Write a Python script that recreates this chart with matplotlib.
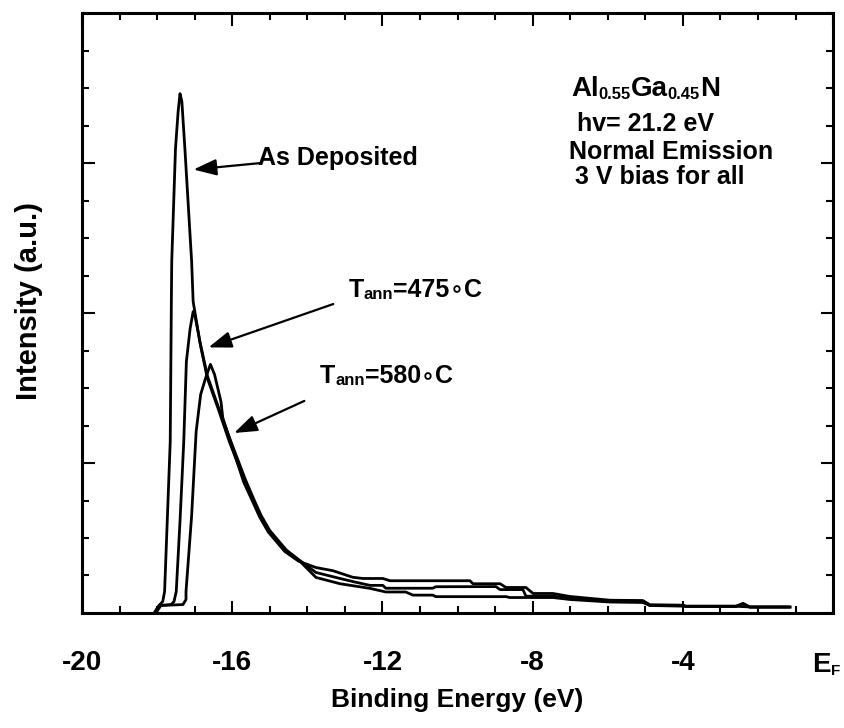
import numpy as np
import matplotlib
matplotlib.use("Agg")
import matplotlib.pyplot as plt
import matplotlib.transforms as mtransforms
from matplotlib.ticker import MultipleLocator

plt.rcParams['font.family'] = ['Liberation Sans', 'DejaVu Sans']
plt.rcParams['font.weight'] = 'bold'

# binding energy (eV) / intensity (a.u.)
as_dep_x = [-18.08, -17.95, -17.85, -17.80, -17.73, -17.65, -17.62, -17.61, -17.51, -17.44,
            -17.39, -17.34, -17.26, -17.08, -17.04, -16.85, -16.66, -16.35, -16.08, -15.67,
            -15.43, -15.25, -15.02, -14.58, -14.21, -13.77, -13.13, -12.33, -11.91, -11.38,
            -11.19, -10.66, -10.58, -8.71, -8.61, -7.46, -7.01, -5.94, -5.07, -4.88,
            -4.0, -3.92, -2.59, -2.40, -2.22, -1.15]
as_dep_y = [0.0, 0.05, 0.076, 0.143, 0.61, 1.143, 2.077, 2.343, 3.097, 3.343,
            3.463, 3.41, 3.097, 2.343, 2.077, 1.79, 1.564, 1.345, 1.145, 0.879,
            0.745, 0.645, 0.547, 0.414, 0.348, 0.237, 0.195, 0.164, 0.14, 0.14,
            0.119, 0.119, 0.109, 0.109, 0.103, 0.103, 0.09, 0.073, 0.07, 0.05,
            0.05, 0.043, 0.043, 0.064, 0.039, 0.039]

t475_x = [-18.06, -17.93, -17.63, -17.55, -17.49, -17.39, -17.29, -17.22, -17.12, -17.04,
          -16.99, -16.86, -16.66, -16.35, -16.06, -15.65, -15.41, -15.23, -15.0, -14.56,
          -14.2, -13.77, -13.13, -12.71, -12.33, -11.99, -11.91, -10.66, -10.58, -8.98,
          -8.87, -8.26, -8.18, -7.46, -7.0, -5.94, -5.07, -4.88, -3.9, -2.6,
          -2.2, -1.2]
t475_y = [0.0, 0.05, 0.056, 0.076, 0.143, 0.61, 1.143, 1.677, 1.897, 2.01,
          1.98, 1.81, 1.58, 1.36, 1.16, 0.89, 0.75, 0.65, 0.55, 0.42,
          0.35, 0.27, 0.23, 0.205, 0.184, 0.184, 0.165, 0.165, 0.175, 0.176,
          0.156, 0.156, 0.112, 0.112, 0.10, 0.08, 0.078, 0.05, 0.045, 0.045,
          0.04, 0.04]

t580_x = [-18.03, -17.90, -17.31, -17.23, -17.23, -17.08, -16.96, -16.84, -16.71, -16.58,
          -16.47, -16.30, -16.25, -16.05, -15.69, -15.45, -15.27, -15.04, -14.6, -14.23,
          -13.77, -13.32, -12.79, -12.52, -11.99, -11.80, -9.67, -9.59, -8.87, -8.71,
          -8.18, -7.99, -7.46, -7.01, -5.94, -5.07, -4.88, -4.0, -3.92, -2.59,
          -2.40, -2.22, -1.15]
t580_y = [0.0, 0.05, 0.056, 0.09, 0.143, 0.65, 1.21, 1.457, 1.565, 1.658,
          1.59, 1.41, 1.30, 1.146, 0.87, 0.74, 0.64, 0.54, 0.41, 0.345,
          0.303, 0.282, 0.238, 0.23, 0.23, 0.215, 0.215, 0.195, 0.195, 0.17,
          0.17, 0.13, 0.13, 0.11, 0.085, 0.083, 0.055, 0.052, 0.045, 0.045,
          0.062, 0.04, 0.04]

xticks = [-20, -16, -12, -8, -4, 0]
xticklabels = ['-20', '-16', '-12', '-8', '-4', '']


def chain(ax, x, y, pieces, transform=None, ha='left'):
    # pieces: list of (string, size); pieces placed one after another on one baseline
    if transform is None:
        transform = ax.transData
    prev = ax.text(x, y, pieces[0][0], fontsize=pieces[0][1], fontweight='bold',
                   transform=transform, ha=ha, va='baseline')
    for s, fs in pieces[1:]:
        prev = ax.annotate(s, xy=(1, 0), xycoords=prev, fontsize=fs, fontweight='bold',
                           ha='left', va='bottom')
    return prev


fig = plt.figure(figsize=(8.45, 7.28), dpi=100)
ax = fig.add_axes([0.097, 0.158, 0.889, 0.824])

for xs, ys in [(as_dep_x, as_dep_y), (t475_x, t475_y), (t580_x, t580_y)]:
    ax.plot(xs, ys, color='black', lw=2.0, solid_joinstyle='round')

ax.set_xlim(-20, 0)
ax.set_ylim(0, 4)
ax.set_xticks(xticks)
ax.set_xticklabels(xticklabels)
ax.xaxis.set_minor_locator(MultipleLocator(1))
ax.set_yticks([1, 2, 3])
ax.set_yticklabels([])
ax.yaxis.set_minor_locator(MultipleLocator(0.25))
ax.tick_params(which='both', direction='in', top=True, right=True, width=1.5)
ax.tick_params(which='major', length=9)
ax.tick_params(which='minor', length=5)
ax.tick_params(axis='x', labelsize=20, pad=27)
for sp in ax.spines.values():
    sp.set_linewidth(2.2)

ax.set_xlabel('Binding Energy (eV)', fontsize=19, fontweight='bold', labelpad=8)
ax.set_ylabel('Intensity (a.u.)', fontsize=21, fontweight='bold')
ax.yaxis.set_label_coords(-0.052, 0.52)

# E_F label at x = 0
blend = mtransforms.blended_transform_factory(ax.transData, ax.transAxes)
chain(ax, -0.56, -0.098, [('E', 20), ('F', 11)], transform=blend)

arrow = dict(arrowstyle='-|>,head_length=0.7,head_width=0.25', color='black',
             lw=1.6, shrinkA=0, shrinkB=0, mutation_scale=20)
ax.annotate('', xy=(-17.03, 2.957), xytext=(-15.25, 3.0), arrowprops=arrow)
ax.annotate('', xy=(-16.63, 1.771), xytext=(-13.31, 2.06), arrowprops=arrow)
ax.annotate('', xy=(-15.95, 1.20), xytext=(-14.08, 1.414), arrowprops=arrow)

ax.text(-15.3, 2.99, 'As Deposited', fontsize=18, fontweight='bold', va='baseline')
chain(ax, -12.9, 2.11, [('T', 18), ('ann', 12), ('=475', 18), ('\u2218', 16), ('C', 18)])
chain(ax, -13.66, 1.535, [('T', 18), ('ann', 12), ('=580', 18), ('\u2218', 16), ('C', 18)])

chain(ax, -6.98, 3.45, [('Al', 20), ('0.55', 12), ('Ga', 20), ('0.45', 12), ('N', 20)])
ax.text(-6.83, 3.217, 'hv= 21.2 eV', fontsize=18, fontweight='bold', va='baseline')
ax.text(-7.03, 3.03, 'Normal Emission', fontsize=18, fontweight='bold', va='baseline')
ax.text(-6.88, 2.863, '3 V bias for all', fontsize=18, fontweight='bold', va='baseline')

fig.savefig('out.png', dpi=100)
